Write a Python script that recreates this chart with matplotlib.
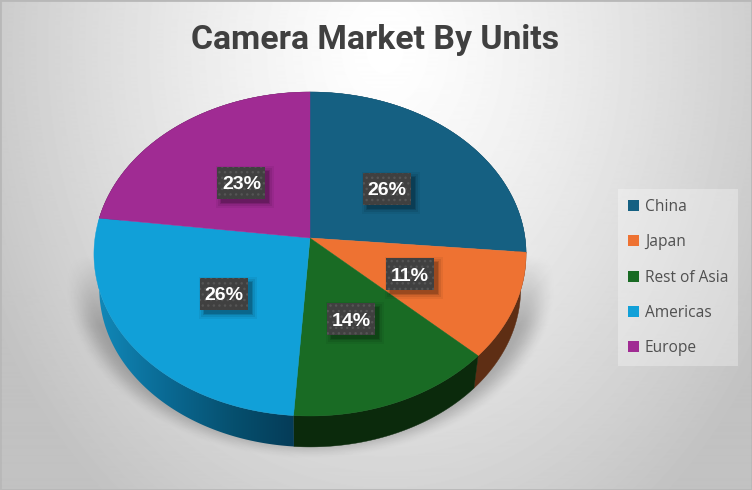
import numpy as np
import matplotlib
matplotlib.use("Agg")
import matplotlib.pyplot as plt
from matplotlib.colors import LinearSegmentedColormap
from matplotlib.patches import Patch, Rectangle, Polygon

title = "Camera Market By Units"
regions = ["China", "Japan", "Rest of Asia", "Americas", "Europe"]
shares = [26.4, 10.6, 14.1, 25.9, 23.0]
colors = ["#156082", "#EE7232", "#196B24", "#11A0D8", "#A02B93"]
wall_dark = ["#0A3A52", "#5E2E14", "#0B2A0C", "#053A56", "#4A1444"]

# fake 3d pie, the disc is tilted so the near side comes out bigger
cx, cy = 310, 238
tilt = 0.0988
drop, shrink = 35.4, 0.975

def project(ang, r=1.0):
    u = r * np.sin(ang)
    v = r * np.cos(ang)
    w = 1 + tilt * v
    return cx + 215 * u / w, cy - 160.4 * v / w

def lower_rim(ang):
    x, y = project(ang)
    return cx + shrink * (x - cx), cy + drop + shrink * (y - cy)

fig = plt.figure(figsize=(7.52, 4.9), dpi=100)
ax = fig.add_axes([0, 0, 1, 1])
ax.set_xticks([])
ax.set_yticks([])
for s in ax.spines.values():
    s.set_color("#b8b8b8")
    s.set_linewidth(2)
ext = (0, 752, 490, 0)

# background
yy, xx = np.mgrid[0:490, 0:752]
d = np.hypot((xx - 385) / 400, (yy - 50) / 520)
bg = np.clip(1 - 0.21 * d ** 1.3, 0.76, 1)
ax.imshow(bg, cmap="gray", vmin=0, vmax=1, extent=ext, aspect="auto", zorder=0)

# soft shadow under the pie, flares out from the rim at both sides
de = np.hypot((xx - 310) / 240, (yy - 282) / 172)
a = np.clip((1.03 - de) / 0.13, 0, 1)
a = a * a * (3 - 2 * a) * 0.24
a = a * np.clip((yy - 255) / 70, 0, 1)
a[yy > 460] = 0
rgba = np.zeros(a.shape + (4,))
rgba[..., 3] = a
ax.imshow(rgba, extent=ext, aspect="auto", zorder=1)

edges = np.radians(np.concatenate([[0], np.cumsum(shares)]) * 3.6)

# side wall
wall_cmap = LinearSegmentedColormap.from_list("wall", ["#1188B8", "#0A6A94", "#06506F", "#053A56"])
for i in range(len(shares)):
    t = np.linspace(edges[i], edges[i + 1], 150)
    x0, y0 = project(t)
    x1, y1 = lower_rim(t)
    pts = np.c_[np.r_[x0, x1[::-1]], np.r_[y0, y1[::-1]]]
    if regions[i] == "Americas":
        # this one gets darker toward the front
        poly = Polygon(pts, closed=True, fc="none", ec="none", transform=ax.transData)
        ax.add_patch(poly)
        ramp = np.linspace(0, 1, 256).reshape(1, -1)
        im = ax.imshow(ramp, cmap=wall_cmap, extent=(98, 300, 490, 0), aspect="auto", zorder=2)
        im.set_clip_path(poly)
    else:
        ax.add_patch(Polygon(pts, closed=True, fc=wall_dark[i], ec=wall_dark[i], lw=0.3, zorder=2))

# top face
for i in range(len(shares)):
    t = np.linspace(edges[i], edges[i + 1], 120)
    x, y = project(t)
    ax.fill(np.r_[cx, x], np.r_[cy, y], color=colors[i], lw=0.3, zorder=3)

# value labels
plt.rcParams["hatch.linewidth"] = 1.0
for i, val in enumerate(shares):
    x, y = project((edges[i] + edges[i + 1]) / 2, 0.5)
    y = y + 3
    for grow, alpha in [(5, 0.05), (3, 0.08), (1, 0.12), (0, 0.15)]:
        ax.add_patch(Rectangle((x - 24 + 4 - grow, y - 16 + 4 - grow), 48 + 2 * grow, 32 + 2 * grow,
                               fc="black", ec="none", alpha=alpha, zorder=4))
    ax.add_patch(Rectangle((x - 24, y - 16), 48, 32, fc="#404040", ec="#555555", hatch="...", lw=0, zorder=5))
    ax.text(x, y + 2, f"{round(val)}%", color="white", fontsize=14, fontweight="bold",
            family="Liberation Sans", ha="center", va="center", zorder=6)

ax.text(375, 40.5, title, color="#404040", fontsize=24.3, fontweight="bold",
        family="Roboto", ha="center", va="center", zorder=6)

handles = [Patch(fc=c, ec="none") for c in colors]
leg = ax.legend(handles, regions, loc="upper left", bbox_to_anchor=(618 / 752, 1 - 189 / 490),
                borderaxespad=0, frameon=True, fancybox=False, framealpha=0.3, facecolor="white",
                edgecolor="none", prop={"family": "Open Sans", "size": 11.2}, labelcolor="#505050",
                labelspacing=1.24, handlelength=0.7, handleheight=0.7, handletextpad=0.38,
                borderpad=0.64)
leg.set_zorder(7)

ax.set_xlim(0, 752)
ax.set_ylim(490, 0)
fig.savefig("out.png", dpi=100)
